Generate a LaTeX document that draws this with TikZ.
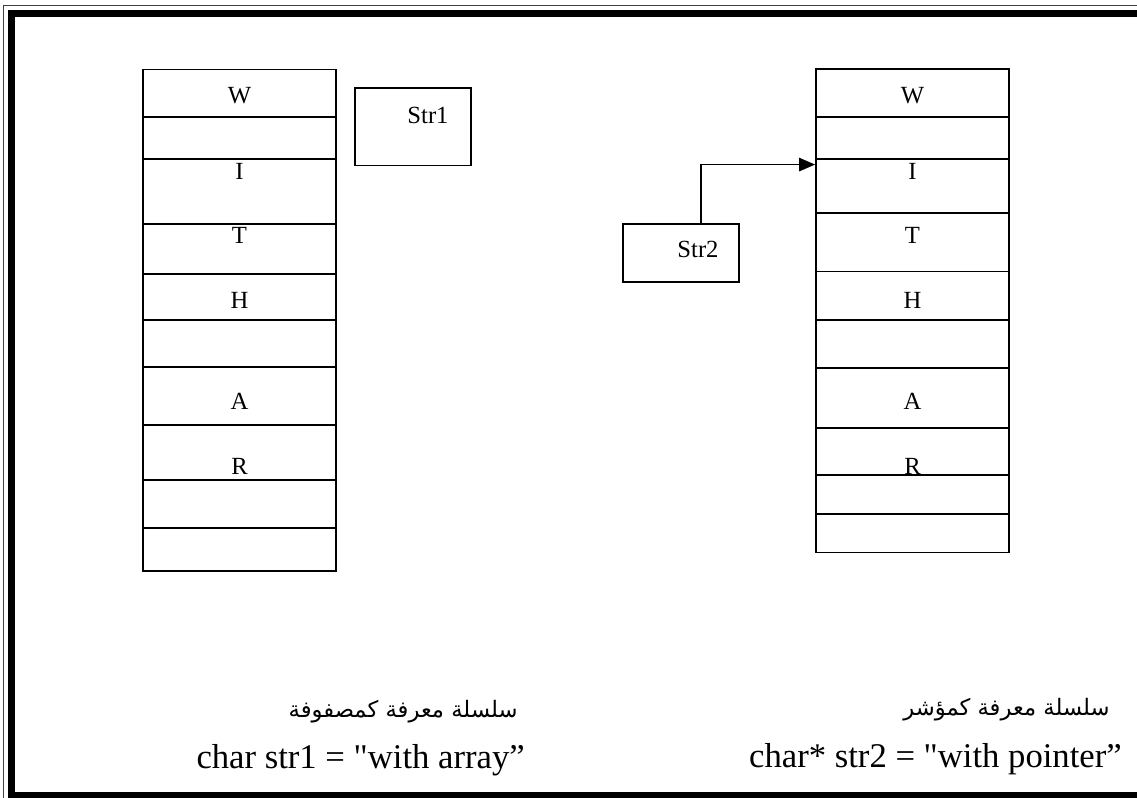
\documentclass[tikz,border=0pt]{standalone}
\usepackage{fontspec}
\setmainfont{Liberation Serif}[Ligatures=TeXOff]
\newfontfamily\arabicfont[Script=Arabic]{DejaVu Sans}
\TeXXeTstate=1
\usetikzlibrary{arrows.meta}

\begin{document}
\begin{tikzpicture}[x=0.75pt, y=-0.75pt, >={Triangle[length=12pt,width=10pt]},
    cell/.style={draw, line width=1.3pt, inner sep=0pt, minimum width=144.75pt},
    letter/.style={font=\fontsize{18.5}{20}\selectfont, inner sep=0pt},
    ptr/.style={draw, line width=1.3pt, inner sep=0pt, minimum width=87pt},
    code/.style={font=\fontsize{26}{30}\selectfont, inner sep=0pt},
    arab/.style={font=\arabicfont\fontsize{17}{20}\selectfont, inner sep=0pt}]
    \path[use as bounding box, clip] (0,0) rectangle (1137,798);
    \draw[line width=0.8pt, black!75] (3.5,5.5) rectangle (1150,810);
    \draw[line width=5.25pt] (11.5,13.5) rectangle (1140,795.5);
    \foreach \ya/\yb [count=\i] in {69.5/117.3,117.3/158.9,158.9/223.7,223.7/274,274/320.1,320.1/366.9,366.9/424.8,424.8/480.3,480.3/527.8,527.8/571.1}
        \node[cell, minimum height={(\yb-\ya)*0.75pt}] (a\i) at (239.5,{(\ya+\yb)/2}) {};
    \foreach \ya/\yb [count=\i] in {68.8/117.3,117.3/158.9,158.9/213.3,213.3/271.6,271.6/320.1,320.1/368,368/428.3,428.3/475.1,475.1/513.9,513.9/552.4}
        \node[cell, minimum height={(\yb-\ya)*0.75pt}] (p\i) at (912.5,{(\ya+\yb)/2}) {};
    \foreach \l/\y in {W/95.5,I/171,T/235,H/300.7,A/401.3,R/466.4} {
        \node[letter] (a\l) at (239.5,\y) {\l};
        \node[letter] (p\l) at (912.5,\y) {\l};
    }
    \node[ptr, minimum height=58.3pt] (str1) at (413,126.6) {};
    \node[letter] (s1) at (428,115.2) {Str1};
    \node[ptr, minimum height=43.6pt] (str2) at (681,252.9) {};
    \node[letter] (s2) at (698,249.8) {Str2};
    \draw[->, line width=1.3pt] ([xshift=2pt]s2 |- str2.north) |- ([yshift=-4.9pt]p3.north west);
    \node[arab, anchor=east] (t1) at (518,712) {\beginR سلسلة معرفة كمصفوفة\endR};
    \node[arab, anchor=east] (t2) at (1110,710) {\beginR سلسلة معرفة كمؤشر\endR};
    \node[code, anchor=base east] (c1) at (525,768) {char str1 = "with array”};
    \node[code, anchor=base east] (c2) at (1122,767) {char* str2 = "with pointer”};
\end{tikzpicture}
\end{document}
